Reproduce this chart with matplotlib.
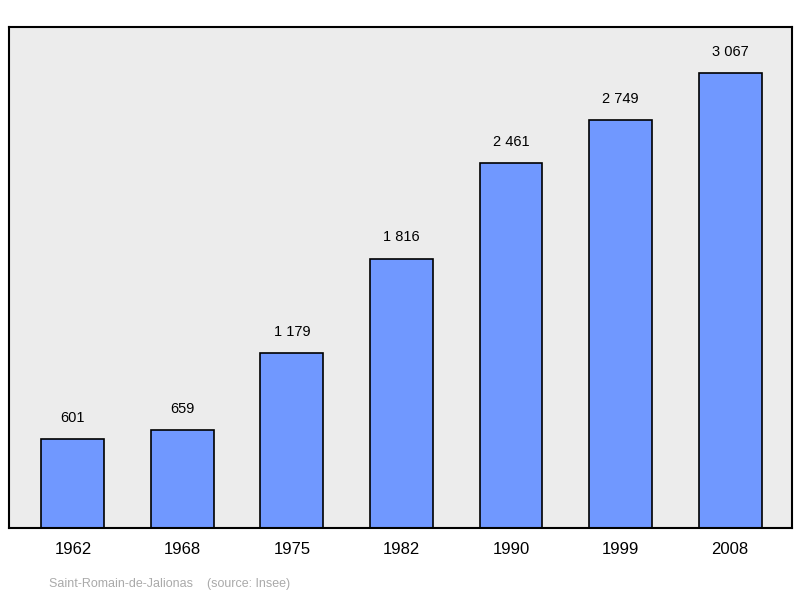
import matplotlib
matplotlib.use("Agg")
import matplotlib.pyplot as plt

years = ["1962", "1968", "1975", "1982", "1990", "1999", "2008"]
population = [601, 659, 1179, 1816, 2461, 2749, 3067]
labels = ["601", "659", "1 179", "1 816", "2 461", "2 749", "3 067"]

fig = plt.figure(figsize=(8.0, 5.98), dpi=100)
ax = fig.add_axes([9/800, 1-528/598, 783/800, 501/598])
ax.set_facecolor("#ececec")
x = list(range(len(years)))
ax.bar(x, population, width=0.575, color="#7098ff", edgecolor="black", linewidth=1.2)
for xi, v, l in zip(x, population, labels):
    ax.text(xi, v + 3376*0.028, l, ha="center", va="bottom", fontsize=10.5, family="Liberation Sans")
ax.set_xlim(-0.584, 6.566)
ax.set_ylim(0, 3376)
ax.set_yticks([])
ax.set_xticks(x)
ax.set_xticklabels(years, fontsize=12, family="Liberation Sans")
ax.tick_params(axis="x", length=0, pad=10)
for s in ax.spines.values():
    s.set_linewidth(1.5)
fig.text(49/800, 1-584/598, "Saint-Romain-de-Jalionas    (source: Insee)", color="#aaaaaa",
         fontsize=9, va="center", family="Liberation Sans")
fig.savefig("out.png", dpi=100)
